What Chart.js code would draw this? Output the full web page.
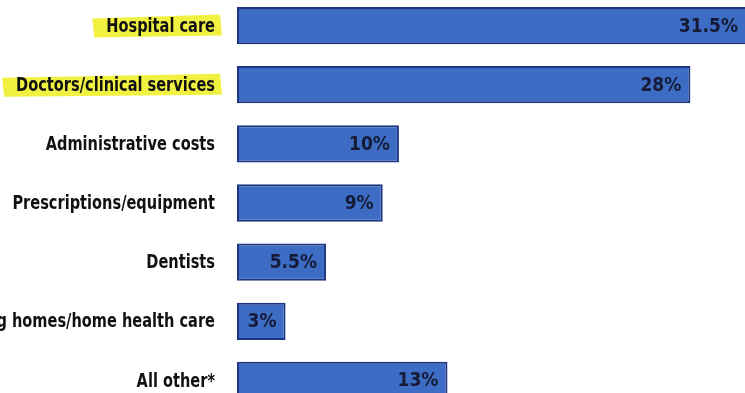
<!DOCTYPE html>
<html>
<head>
<meta charset="utf-8">
<script src="https://cdn.jsdelivr.net/npm/chart.js@4"></script>
<style>
  html, body { margin: 0; padding: 0; background: #fff; overflow: hidden; }
  #spending { position: absolute; left: 0; top: -4px; }
</style>
</head>
<body>
<canvas id="spending" width="760" height="414"></canvas>
<script>
    // Where the health care dollar goes
    const categories = ['Hospital care', 'Doctors/clinical services', 'Administrative costs',
        'Prescriptions/equipment', 'Dentists', 'Nursing homes/home health care', 'All other*'];
    const shares = [31.5, 28, 10, 9, 5.5, 3, 13];
    const highlighted = ['Hospital care', 'Doctors/clinical services'];

    const condensed = '"DejaVu Sans Condensed", "DejaVu Sans", sans-serif';

    // category names, squeezed horizontally, with yellow marker behind two of them
    const names = {
        id: 'names',
        beforeDatasetsDraw(chart) {
            const y = chart.scales.y;
            const c = chart.ctx;
            const right = chart.chartArea.left - 22;
            const squeeze = 0.81;
            c.save();
            c.font = 'bold 20px ' + condensed;
            categories.forEach((name, i) => {
                const py = y.getPixelForTick(i);
                const w = c.measureText(name).width * squeeze;
                if (highlighted.includes(name)) {
                    c.fillStyle = 'rgba(240, 240, 50, 0.92)';
                    c.beginPath();
                    c.moveTo(right - w - 14, py - 7);
                    c.lineTo(right + 5, py - 11);
                    c.lineTo(right + 7, py + 10);
                    c.lineTo(right - w - 12, py + 12);
                    c.closePath();
                    c.fill();
                }
                c.save();
                c.translate(right, py);
                c.scale(squeeze, 1);
                c.fillStyle = '#111';
                c.textAlign = 'right';
                c.textBaseline = 'middle';
                c.fillText(name, 0, 1);
                c.restore();
            });
            c.restore();
        }
    };

    // value printed inside the end of each bar
    const values = {
        id: 'values',
        afterDatasetsDraw(chart) {
            const c = chart.ctx;
            const meta = chart.getDatasetMeta(0);
            c.save();
            c.font = 'bold 19px ' + condensed;
            c.fillStyle = '#151b36';
            c.textAlign = 'right';
            c.textBaseline = 'middle';
            meta.data.forEach((bar, i) => {
                c.fillText(shares[i] + '%', bar.x - 9, bar.y + 1);
            });
            c.restore();
        }
    };

    var ctx = document.getElementById('spending').getContext('2d');
    var myChart = new Chart(ctx, {
        type: 'bar',
        data: {
            labels: categories,
            datasets: [{
                data: shares,
                backgroundColor: '#3d6cc4',
                borderColor: '#1d3680',
                borderWidth: 2,
                borderSkipped: false,
                barPercentage: 0.63,
                categoryPercentage: 1
            }]
        },
        options: {
            indexAxis: 'y',
            responsive: false,
            animation: false,
            layout: { padding: 0 },
            plugins: {
                legend: { display: false },
                tooltip: { enabled: false }
            },
            scales: {
                x: {
                    display: false,
                    min: 0,
                    max: 32.3
                },
                y: {
                    grid: { display: false, drawTicks: false },
                    border: { display: false },
                    ticks: { display: false },
                    afterFit(scale) { scale.width = 237; }
                }
            }
        },
        plugins: [names, values]
    });
</script>
</body>
</html>
